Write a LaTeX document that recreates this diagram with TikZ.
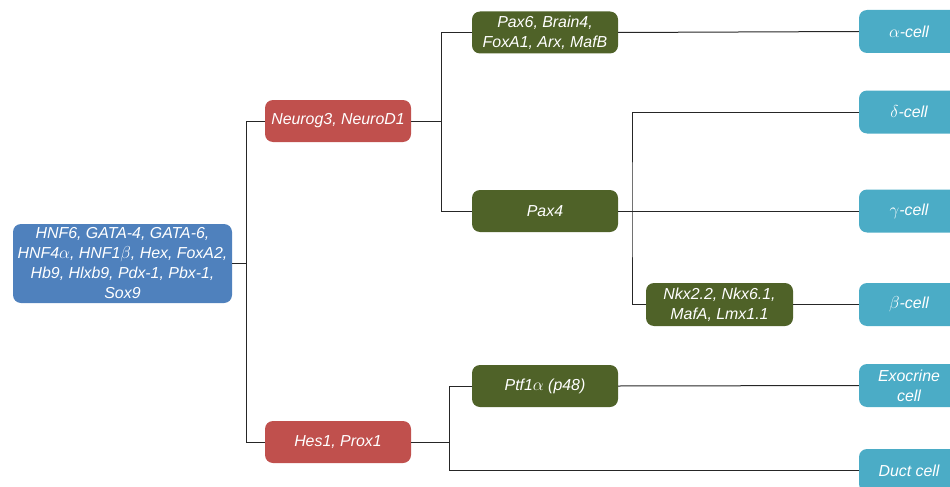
\documentclass[tikz,border=0pt]{standalone}
\usepackage{fontspec}
\setmainfont{Liberation Sans}
\usepackage{tikz}
\usetikzlibrary{positioning,calc}
\usepackage{xcolor}
\definecolor{rootblue}{HTML}{4F81BD}
\definecolor{genred}{HTML}{C0504D}
\definecolor{genolive}{HTML}{4F6228}
\definecolor{cellcyan}{HTML}{4BACC6}

\begin{document}
\begin{tikzpicture}[x=1pt,y=-1pt,
                    box/.style={rounded corners=8pt, inner sep=0pt, align=center, text=white,
                        font=\fontsize{15.9}{20}\selectfont\itshape},
                    rootbox/.style={box, fill=rootblue, minimum width=219pt, minimum height=79pt},
                    redbox/.style={box, fill=genred, minimum width=146pt, minimum height=42pt},
                    olivebox/.style={box, fill=genolive, minimum width=146pt, minimum height=42pt},
                    cellbox/.style={box, fill=cellcyan, minimum width=100pt, minimum height=43pt},
                    link/.style={black!85, line width=1pt}]
                    \clip (0,0) rectangle (950,487);
                    \node[rootbox] (root) at (122.5,263.5) {HNF6, GATA-4, GATA-6,\\HNF4$\alpha$, HNF1$\beta$, Hex, FoxA2,\\Hb9, Hlxb9, Pdx-1, Pbx-1,\\Sox9};
                    \node[redbox] (neuro) at (338,121) {Neurog3, NeuroD1};
                    \node[redbox] (hes) at (338,442) {Hes1, Prox1};
                    \node[olivebox] (pax6) at (545,32.5) {Pax6, Brain4,\\FoxA1, Arx, MafB};
                    \node[olivebox] (pax4) at (545,211) {Pax4};
                    \node[olivebox] (ptf) at (545,386) {Ptf1$\alpha$ (p48)};
                    \node[olivebox, minimum width=147pt, minimum height=43pt] (nkx) at (719.5,304.5) {Nkx2.2, Nkx6.1,\\MafA, Lmx1.1};
                    \foreach \n/\y/\t in {alpha/31.5/{$\alpha$-cell}, delta/112/{$\delta$-cell}, gamma/211/{$\gamma$-cell},
                                          beta/304.5/{$\beta$-cell}, exo/385.5/{Exocrine\\cell}, duct/470.5/{Duct cell}} {
                        \node[cellbox] (\n) at (909,\y) {\t};
                    }
                    \coordinate (j1) at (246,263.5);
                    \coordinate (j2) at (441,121);
                    \coordinate (j3) at (449,442);
                    \coordinate (j4) at (632,211);
                    \draw[link] (root.east) -- (j1) |- (neuro.west);
                    \draw[link] (j1) |- (hes.west);
                    \draw[link] (neuro.east) -- (j2) |- (pax6.west);
                    \draw[link] (j2) |- (pax4.west);
                    \draw[link] (hes.east) -- (j3) |- (ptf.west);
                    \draw[link] (j3) |- (duct.west);
                    \draw[link] (pax6.east) -- (alpha.west);
                    \draw[link] (pax4.east) -- (gamma.west);
                    \draw[link] (delta.west) -| (j4) |- (nkx.west);
                    \draw[link] (nkx.east) -- (beta.west);
                    \draw[link] (ptf.east) -- (exo.west);
                \end{tikzpicture}
\end{document}
